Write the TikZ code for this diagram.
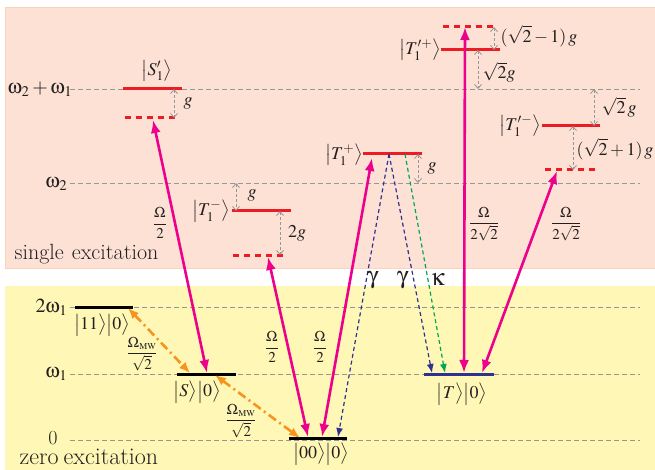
\documentclass[tikz,border=0pt]{standalone}
\usepackage{amsmath}
\usepackage{mathptmx}
\usepackage[Symbol]{upgreek}
\usepackage{xcolor}
\usepackage{tikz}
\usetikzlibrary{arrows.meta}
\definecolor{bgPink}{RGB}{252,225,212}
\definecolor{bgPinkEdge}{RGB}{249,212,186}
\definecolor{bgYellow}{RGB}{255,247,182}
\definecolor{lvRed}{RGB}{237,28,36}
\definecolor{lvNavy}{RGB}{46,49,146}
\definecolor{pumpPink}{RGB}{236,0,140}
\definecolor{mwOrange}{RGB}{247,148,29}
\definecolor{decayGreen}{RGB}{0,166,81}
\definecolor{lineGray}{RGB}{150,150,150}
\definecolor{txtDark}{RGB}{35,31,32}
\newcommand{\lket}[1]{\bigl|#1\bigr\rangle}

\begin{document}
\begin{tikzpicture}[x=1pt,y=-1pt,
  font=\fontsize{18}{21}\selectfont, text=txtDark, inner sep=0.5pt,
  lvl/.style={line width=3pt},
  lvldash/.style={lvRed, line width=3pt, dash pattern=on 6pt off 5pt},
  levelline/.style={lineGray, line width=0.8pt, dash pattern=on 4.5pt off 3.5pt},
  gaparrow/.style={lineGray, line width=0.8pt, dash pattern=on 3pt off 2pt,
    {Straight Barb[length=4pt,width=7pt]}-{Straight Barb[length=4pt,width=7pt]}},
  pump/.style={pumpPink, line width=2.6pt,
    {Latex[length=13pt,width=10pt]}-{Latex[length=13pt,width=10pt]}},
  mw/.style={mwOrange, line width=2.6pt, dash pattern=on 9pt off 4pt on 2pt off 4pt,
    {Latex[length=11pt,width=9pt]}-{Latex[length=11pt,width=9pt]}},
  decay/.style={line width=1.2pt, dash pattern=on 4pt off 3pt, -{Latex[length=9pt,width=7pt]}},
  frac/.style={font=\fontsize{15}{17}\selectfont},
  axis/.style={anchor=east, font=\fontsize{20}{22}\selectfont},
  rate/.style={font=\fontsize{24}{26}\selectfont},
  ]
\useasboundingbox (0,0) rectangle (655,470);

% backgrounds
\fill[bgPink, draw=bgPinkEdge, line width=1pt] (5,8) rectangle (662,268);
\fill[bgYellow] (5,286) rectangle (662,475);

% energy axis
\foreach \y in {89,183,307,374,440}
{
    \draw[levelline] (70,\y) -- (640,\y);
}
\node[axis] (w21) at (73,89) {$\upomega_2+\upomega_1$};
\node[axis] (w2) at (68,184) {$\upomega_2$};
\node[axis] (w11) at (68,307) {$2\upomega_1$};
\node[axis] (w1) at (68,374) {$\upomega_1$};
\node[font=\fontsize{20}{22}\selectfont] (w0) at (53,438) {0};
\node[anchor=base west, font=\fontsize{22}{24}\selectfont] (single) at (14,259) {single\hspace{8pt}excitation};
\node[anchor=base west, font=\fontsize{24}{26}\selectfont] (zero) at (19,464) {zero\hspace{5pt}excitation};

% single excitation levels
\draw[lvl, lvRed] (123,89) -- (182,89);
\draw[lvldash] (125,118) -- (176,118);
\draw[lvl, lvRed] (232,211) -- (291,211);
\draw[lvldash] (233,255) -- (283,255);
\draw[lvl, lvRed] (363,154) -- (422,154);
\draw[lvl, lvRed] (441,50) -- (500,50);
\draw[lvldash] (443,27) -- (496,27);
\draw[lvl, lvRed] (542,126) -- (600,126);
\draw[lvldash] (545,170) -- (598,170);

\node (S1) at (157,71) {$\lket{S_1^{\prime}}$};
\node (T1m) at (211,211) {$\lket{T_1^{-}}$};
\node (T1p) at (344,155) {$\lket{T_1^{+}}$};
\node (T1pp) at (420,50) {$\lket{T_1^{\prime +}}$};
\node (T1pm) at (520,126) {$\lket{T_1^{\prime -}}$};

% splittings
\draw[gaparrow] (174,89) -- (174,118);
\node (gS) at (188,103) {$g$};
\draw[gaparrow] (236,183) -- (236,211);
\node (gTm) at (252,195) {$g$};
\draw[gaparrow] (280,211) -- (280,255);
\node (gTm2) at (297,233) {$2g$};
\draw[gaparrow] (418,154) -- (418,183);
\node (gTp) at (432,168) {$g$};
\draw[gaparrow] (494,27) -- (494,50);
\node (gTpp1) at (539,36) {$(\sqrt{2}-1)\,g$};
\draw[gaparrow] (478,50) -- (478,89);
\node (gTpp2) at (499,72) {$\sqrt{2}g$};
\draw[gaparrow] (594,89) -- (594,126);
\node (gTpm1) at (619,107) {$\sqrt{2}\,g$};
\draw[gaparrow] (573,126) -- (573,170);
\node (gTpm2) at (615,149) {$(\sqrt{2}+1)\,g$};

% zero excitation levels
\draw[lvl, black] (75,307) -- (133,307);
\draw[lvl, black] (177,374) -- (236,374);
\draw[lvl, black] (289,438) -- (347,438);
\draw[lvl, lvNavy] (424,374) -- (494,374);

\node (k11) at (102,325) {$\lket{11}\lket{0}$};
\node (kS) at (197,392) {$\lket{S}\lket{0}$};
\node (k00) at (321,454) {$\lket{00}\lket{0}$};
\node (kT) at (462,394) {$\lket{T}\lket{0}$};

% transition end points
\coordinate (S1dn) at (153,120);
\coordinate (Sup) at (207,373);
\coordinate (T1mdn) at (268,257);
\coordinate (T1pdn) at (372,158);
\coordinate (T1pa) at (389,154);
\coordinate (T1pb) at (405,154);
\coordinate (T1ppup) at (465,27);
\coordinate (T1pmdn) at (557,171);
\coordinate (ooA) at (308,437);
\coordinate (ooB) at (322,437);
\coordinate (ooC) at (338,437);
\coordinate (TupA) at (432,373);
\coordinate (TupB) at (445,373);
\coordinate (TupC) at (464,373);
\coordinate (TupD) at (482,373);
\coordinate (elevR) at (128,308);
\coordinate (SupL) at (190,373);
\coordinate (SupR) at (215,375);
\coordinate (ooL) at (300,438);

% decays
\draw[decay, lvNavy] (T1pa) -- (ooC);
\draw[decay, lvNavy] (T1pa) -- (TupA);
\draw[decay, decayGreen] (T1pb) -- (TupB);
\node[rate] (gam1) at (373,280) {$\upgamma$};
\node[rate] (gam2) at (403,280) {$\upgamma$};
\node[rate] (kap) at (438,279) {$\upkappa$};

% optical drives
\draw[pump] (S1dn) -- (Sup);
\draw[pump] (T1mdn) -- (ooA);
\draw[pump] (T1pdn) -- (ooB);
\draw[pump] (T1ppup) -- (TupC);
\draw[pump] (T1pmdn) -- (TupD);
\node[frac] (OmA) at (160,223) {$\dfrac{\Omega}{2}$};
\node[frac] (OmB) at (272,347) {$\dfrac{\Omega}{2}$};
\node[frac] (OmC) at (320,347) {$\dfrac{\Omega}{2}$};
\node[frac] (OmD) at (484,224) {$\dfrac{\Omega}{2\sqrt{2}}$};
\node[frac] (OmE) at (566,224) {$\dfrac{\Omega}{2\sqrt{2}}$};

% microwave drives
\draw[mw] (elevR) -- (SupL);
\draw[mw] (SupR) -- (ooL);
\node[frac] (mwA) at (142,354) {$\dfrac{\Omega_{\scriptscriptstyle\mathrm{MW}}}{\sqrt{2}}$};
\node[frac] (mwB) at (241,421) {$\dfrac{\Omega_{\scriptscriptstyle\mathrm{MW}}}{\sqrt{2}}$};
\end{tikzpicture}
\end{document}
